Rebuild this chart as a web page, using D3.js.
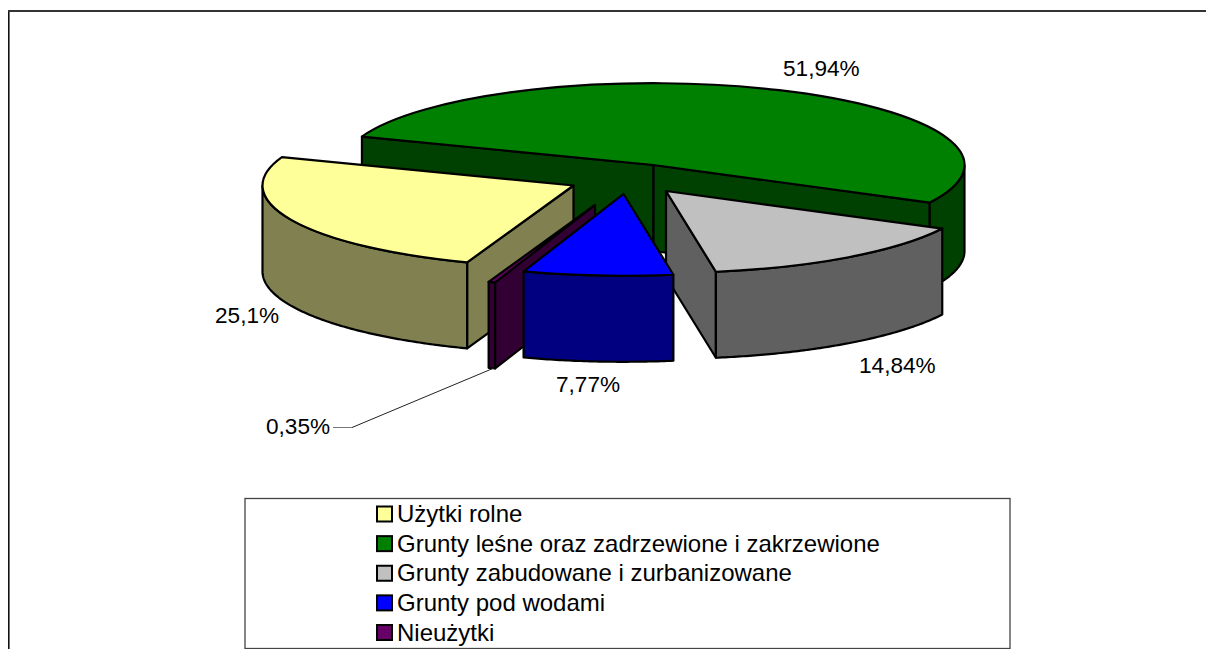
<!DOCTYPE html>
<html><head><meta charset="utf-8">
<script src="https://cdn.jsdelivr.net/npm/d3@7"></script>
<style>
html,body{margin:0;padding:0;background:#fff}
svg{display:block}
text{font-family:"Liberation Sans",Arial,sans-serif;fill:#000}
</style></head><body>
<svg id="c" width="1206" height="649"></svg>
<script>
const categories = ["Użytki rolne","Grunty leśne oraz zadrzewione i zakrzewione","Grunty zabudowane i zurbanizowane","Grunty pod wodami","Nieużytki"];
const values = [25.1,51.94,14.84,7.77,0.35];
const valueLabels = ["25,1%","51,94%","14,84%","7,77%","0,35%"];
const topColors = ["#FFFF99","#008000","#C0C0C0","#0000FF","#660066"];
const sideColors = ["#808050","#004000","#606060","#000080","#330033"];
// layout only
const firstAngle = 200*Math.PI/180;
const R = 311, tilt = 0.263, depth = 86;
const apex = [[573.5,185.5],[653.5,165],[666,191],[623.5,194],[595,205]];
const labelPos = [[215,323],[783,76],[859,373],[556,392],[266,434]];
const drawOrder = [1,0,2,4,3];

const svg = d3.select("#c");
// frame
svg.append("path").attr("d","M8.8,649V11").attr("fill","none").attr("stroke","#111").attr("stroke-width",1.6);
svg.append("path").attr("d","M8,11H1206").attr("fill","none").attr("stroke","#333").attr("stroke-width",2);

const pie = d3.pie().sort(null).startAngle(firstAngle).endAngle(firstAngle+2*Math.PI);
const arcs = pie(values);
const rScale = d3.scaleLinear().domain([0,1]).range([0,R]);
const pt = (a,i,dz=0)=>[apex[i][0]+rScale(1)*Math.sin(a), apex[i][1]-rScale(1)*tilt*Math.cos(a)+dz];
const line = d3.line();
const arcGen = d3.arc().innerRadius(0).outerRadius(R);
const G = svg.append("g");
const strokeW = 2.2;

drawOrder.forEach(i=>{
  const d = arcs[i], a0=d.startAngle, a1=d.endAngle;
  const g = G.append("g");
  const style = s=>s.attr("stroke","#000").attr("stroke-width",strokeW).attr("stroke-linejoin","round");
  // cut faces
  const face = a=>{
    const p=pt(a,i), c=apex[i];
    g.append("path").attr("d",line([c,p,[p[0],p[1]+depth],[c[0],c[1]+depth]])+"Z").attr("fill",sideColors[i]).call(style);
  };
  const faces=[];
  if(-Math.sin(a0)>0) faces.push(a0);
  if(Math.sin(a1)>0) faces.push(a1);
  faces.forEach(face);
  // outer wall: front half of the rim (angle between 90° and 270° modulo 360°)
  const n=Math.ceil((a1-a0)/0.01);
  const samples=d3.range(n+1).map(k=>a0+(a1-a0)*k/n).filter(a=>Math.cos(a)<=0);
  if(samples.length>1){
    const top=samples.map(a=>pt(a,i)), bot=samples.map(a=>pt(a,i,depth)).reverse();
    g.append("path").attr("d",line(top.concat(bot))+"Z").attr("fill",sideColors[i]).call(style);
  }
  // top face
  g.append("path").attr("d",arcGen({startAngle:a0,endAngle:a1}))
    .attr("transform",`translate(${apex[i]}) scale(1,${tilt})`)
    .attr("vector-effect","non-scaling-stroke")
    .attr("fill",topColors[i]).call(style);
});

// value labels
svg.selectAll("text.v").data(valueLabels).join("text").attr("class","v")
  .attr("x",(d,i)=>labelPos[i][0]).attr("y",(d,i)=>labelPos[i][1])
  .attr("font-size",22.6).text(d=>d);
// leader
svg.append("path").attr("d","M333,427.5H352").attr("stroke","#777").attr("stroke-width",1).attr("fill","none");
svg.append("path").attr("d","M352,427.5L494,368").attr("stroke","#222").attr("stroke-width",1).attr("fill","none");

// legend
const lg = svg.append("g");
lg.append("rect").attr("x",245).attr("y",498.5).attr("width",765).attr("height",150).attr("fill","#fff").attr("stroke","#444").attr("stroke-width",1.3);
const rowY = d3.scalePoint().domain(categories).range([514,632.5]);
categories.forEach((c,i)=>{
  lg.append("rect").attr("x",377).attr("y",rowY(c)-7.5).attr("width",15).attr("height",15).attr("fill",topColors[i]).attr("stroke","#000").attr("stroke-width",2);
  lg.append("text").attr("x",397).attr("y",rowY(c)+8).attr("font-size",24).text(c);
});
</script></body></html>
